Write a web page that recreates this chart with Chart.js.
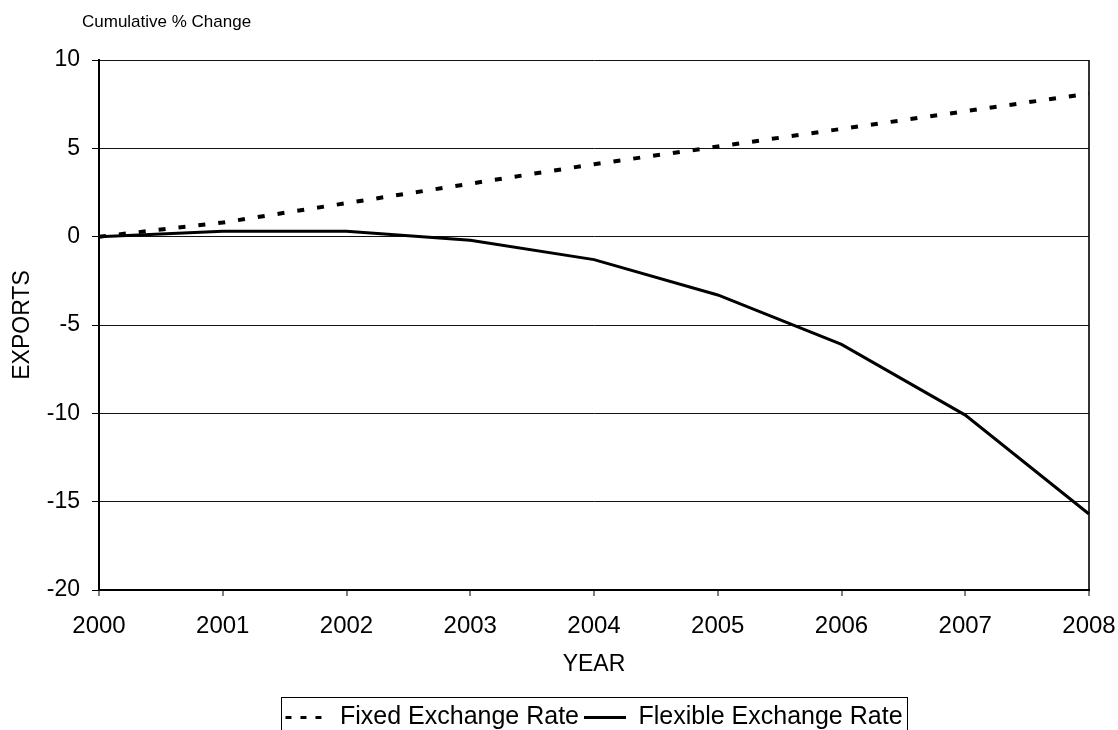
<!DOCTYPE html>
<html>
<head>
<meta charset="utf-8">
<script src="https://cdn.jsdelivr.net/npm/chart.js@4.4.1/dist/chart.umd.min.js"></script>
<style>
  html, body { margin: 0; padding: 0; background: #fff; }
  canvas { display: block; }
</style>
</head>
<body>
<canvas id="myChart" width="1118" height="730"></canvas>
<script>
// cumulative % change in exports under the two regimes
const years = ["2000", "2001", "2002", "2003", "2004", "2005", "2006", "2007", "2008"];
const fixedRate = [0, 0.8, 1.9, 3.0, 4.1, 5.1, 6.1, 7.1, 8.1];
const flexibleRate = [0, 0.3, 0.3, -0.2, -1.3, -3.3, -6.1, -10.1, -15.7];
const seriesNames = ["Fixed Exchange Rate", "Flexible Exchange Rate"];
const yTicks = [10, 5, 0, -5, -10, -15, -20];
const topNote = "Cumulative % Change";

const FONT = '"Liberation Sans", Arial, Helvetica, sans-serif';

// small extras: the note above the plot, centring the legend under the plot, and the legend frame
const extras = {
  id: "extras",
  afterLayout(chart) {
    const lg = chart.legend;
    const mid = (chart.chartArea.left + chart.chartArea.right) / 2;
    const half = (lg.right - lg.left) / 2;
    lg.left = mid - half;
    lg.right = mid + half;
    const dy = 700 - lg.top;
    lg.top += dy;
    lg.bottom += dy;
  },
  afterDraw(chart) {
    const ctx = chart.ctx;
    ctx.save();
    ctx.fillStyle = "#000";
    ctx.font = "17px " + FONT;
    ctx.textAlign = "left";
    ctx.textBaseline = "alphabetic";
    ctx.fillText(topNote, 82, 27);

    const boxes = chart.legend.legendHitBoxes;
    if (boxes && boxes.length) {
      const left = Math.min(...boxes.map(b => b.left)) - 4;
      const right = Math.max(...boxes.map(b => b.left + b.width)) + 5;
      const top = Math.min(...boxes.map(b => b.top)) - 8;
      ctx.strokeStyle = "#000";
      ctx.lineWidth = 1;
      ctx.strokeRect(Math.round(left) + 0.5, Math.round(top) + 0.5, Math.round(right - left), 60);
    }
    ctx.restore();
  }
};

// legend samples follow each dataset's own stroke
function legendLabels(chart) {
  const items = Chart.defaults.plugins.legend.labels.generateLabels(chart);
  items.forEach(it => {
    const ds = chart.data.datasets[it.datasetIndex];
    it.strokeStyle = ds.borderColor;
    it.lineWidth = 3;
    it.lineDash = ds.borderDash ? [6, 9] : [];
    it.pointStyle = "line";
  });
  return items;
}

const ctx = document.getElementById("myChart").getContext("2d");
new Chart(ctx, {
  type: "line",
  data: {
    labels: years,
    datasets: [
      {
        label: seriesNames[0],
        data: fixedRate,
        borderColor: "#000",
        borderWidth: 4,
        borderDash: [7, 13],
        pointRadius: 0,
        tension: 0,
        fill: false
      },
      {
        label: seriesNames[1],
        data: flexibleRate,
        borderColor: "#000",
        borderWidth: 3,
        pointRadius: 0,
        tension: 0,
        fill: false
      }
    ]
  },
  options: {
    responsive: false,
    animation: false,
    layout: { padding: { top: 60, right: 29, bottom: 0, left: 0 } },
    plugins: {
      title: { display: false },
      tooltip: { enabled: false },
      legend: {
        position: "bottom",
        labels: {
          usePointStyle: true,
          pointStyle: "line",
          pointStyleWidth: 42,
          padding: 5,
          color: "#000",
          font: { family: FONT, size: 25 },
          generateLabels: legendLabels
        }
      }
    },
    scales: {
      x: {
        type: "category",
        offset: false,
        afterFit(scale) {
          scale.height = 100;
          // keep the plot's right edge fixed regardless of the last label's overhang
          scale.paddingRight = 29;
          scale.paddingLeft = 0;
        },
        border: { display: true, color: "#000", width: 2 },
        grid: {
          drawOnChartArea: true,
          color: c => (c.index === years.length - 1 ? "#333" : "rgba(0,0,0,0)"),
          lineWidth: 2,
          tickColor: "#000",
          tickLength: 6,
          tickWidth: 1
        },
        ticks: {
          color: "#000",
          padding: 16,
          maxRotation: 0,
          autoSkip: false,
          font: { family: FONT, size: 24 }
        },
        title: {
          display: true,
          text: "YEAR",
          color: "#000",
          padding: { top: 0, bottom: 12 },
          font: { family: FONT, size: 23 }
        }
      },
      y: {
        min: -20,
        max: 10,
        afterFit(scale) { scale.width = 99; },
        afterBuildTicks(scale) { scale.ticks = yTicks.map(v => ({ value: v })); },
        border: { display: true, color: "#000", width: 2 },
        grid: {
          color: "#111",
          lineWidth: 1,
          tickColor: "#000",
          tickLength: 7
        },
        ticks: {
          color: "#000",
          padding: 12,
          font: { family: FONT, size: 23 }
        },
        title: {
          display: true,
          text: "EXPORTS",
          color: "#000",
          padding: { top: 9, bottom: 0 },
          font: { family: FONT, size: 23 }
        }
      }
    }
  },
  plugins: [extras]
});
</script>
</body>
</html>
